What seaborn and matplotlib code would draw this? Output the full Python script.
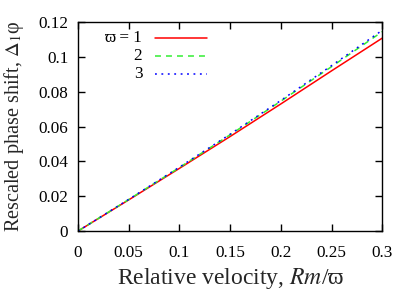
import pandas as pd
import seaborn as sns
import matplotlib.pyplot as plt

# relative velocity Rm/varpi
velocity = [0, 0.05, 0.1, 0.15, 0.2, 0.25, 0.3]
# rescaled phase shift for varpi = 1, 2, 3
shift_w1 = [0, 0.0179, 0.0360, 0.0543, 0.0730, 0.0920, 0.1108]
shift_w2 = [0, 0.0181, 0.0365, 0.0553, 0.0746, 0.0944, 0.1145]
shift_w3 = [0, 0.0182, 0.0367, 0.0556, 0.0750, 0.0950, 0.1153]
legend_labels = ['ϖ = 1', '2', '3']
line_colors = ['#ff0000', '#33ee33', '#0000ff']
line_dashes = [(None, None), (3.9, 3.3), (1.2, 3.0)]

sns.set_theme(style='ticks')
plt.rcParams['font.family'] = ['Liberation Serif', 'DejaVu Serif']
plt.rcParams['mathtext.fontset'] = 'stix'

fig = plt.figure(figsize=(4.15, 2.91), dpi=100)
ax = fig.add_axes([0.188, 0.206, 0.733, 0.718])

series = [shift_w1, shift_w2, shift_w3]
for lab, vals, col, dash in zip(legend_labels, series, line_colors, line_dashes):
    df = pd.DataFrame({'x': velocity, 'y': vals})
    sns.lineplot(data=df, x='x', y='y', color=col, lw=1.1, ax=ax)
    line = ax.get_lines()[-1]
    if dash[0] is not None:
        line.set_dashes(dash)

# gnuplot-style key: label on the left, sample on the right
key_y = [0.922, 0.837, 0.75]
for lab, col, dash, ky in zip(legend_labels, line_colors, line_dashes, key_y):
    ax.text(0.211, ky, lab, transform=ax.transAxes, ha='right', va='center',
            fontsize=12.3, color='black')
    l, = ax.plot([0.253, 0.423], [ky, ky], transform=ax.transAxes,
                 color=col, lw=1.1)
    if dash[0] is not None:
        l.set_dashes(dash)

ax.set_xlim(0, 0.3)
ax.set_ylim(0, 0.12)
ax.set_xticks([0, 0.05, 0.1, 0.15, 0.2, 0.25, 0.3])
ax.set_xticklabels(['0', '0.05', '0.1', '0.15', '0.2', '0.25', '0.3'])
ax.set_yticks([0, 0.02, 0.04, 0.06, 0.08, 0.1, 0.12])
ax.set_yticklabels(['0', '0.02', '0.04', '0.06', '0.08', '0.1', '0.12'])
ax.tick_params(direction='in', length=5, width=1, top=True, right=True,
               labelsize=12.3, colors='black')
ax.tick_params(axis='x', pad=10)
ax.tick_params(axis='y', pad=7)
for sp in ax.spines.values():
    sp.set_visible(True)
    sp.set_linewidth(1)
    sp.set_color('black')

ax.set_xlabel('Relative velocity, $Rm$/ϖ', fontsize=17, labelpad=4)
ax.set_ylabel('Rescaled phase shift, $\\Delta_1$φ', fontsize=14.6, labelpad=9)

fig.savefig('out.png', dpi=100)
